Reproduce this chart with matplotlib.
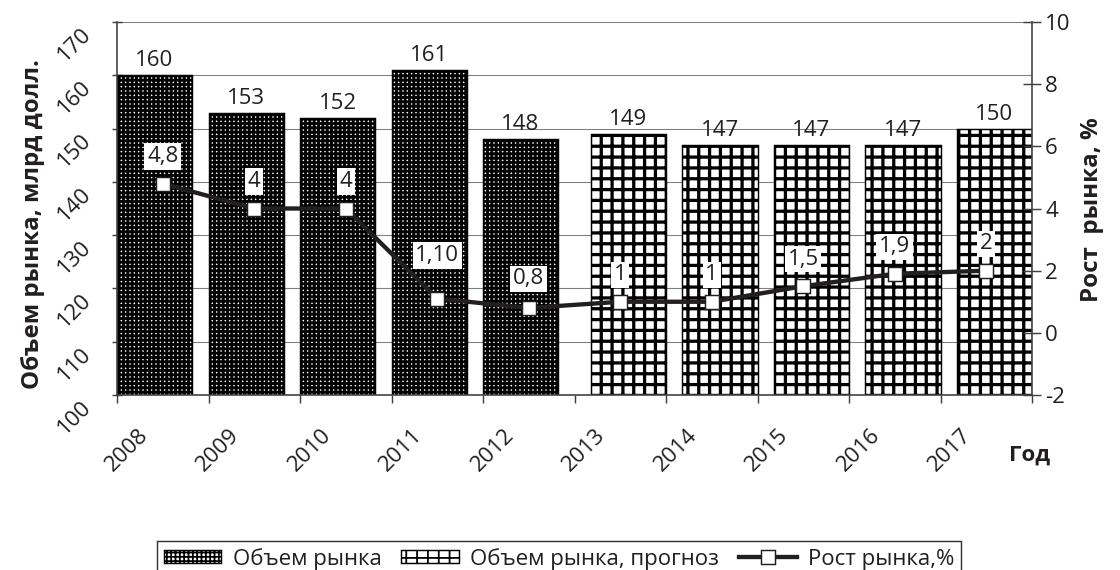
import matplotlib
matplotlib.use("Agg")
import matplotlib.pyplot as plt
from matplotlib.transforms import offset_copy
import numpy as np

# ---- data ----
years = ["2008", "2009", "2010", "2011", "2012", "2013", "2014", "2015", "2016", "2017"]
market = [160, 153, 152, 161, 148]            # 2008-2012
forecast = [149, 147, 147, 147, 150]          # 2013-2017
growth = [4.8, 4, 4, 1.1, 0.8, 1, 1, 1.5, 1.9, 2]
growth_labels = ["4,8", "4", "4", "1,10", "0,8", "1", "1", "1,5", "1,9", "2"]
left_ticks = [100, 110, 120, 130, 140, 150, 160, 170]
right_ticks = [-2, 0, 2, 4, 6, 8, 10]

legend_labels = ["Объем рынка", "Объем рынка, прогноз", "Рост рынка,%"]
ylabel_left = "Объем рынка, млрд долл."
ylabel_right = "Рост  рынка, %"
xlabel = "Год"

# ---- style ----
DPI = 130
plt.rcParams['font.family'] = ['Open Sans', 'DejaVu Sans']
TXT = '#231f20'
FS = 12.3

fig = plt.figure(figsize=(1120 / DPI, 570 / DPI), dpi=DPI)
ax = fig.add_axes([117 / 1120, 1 - 395 / 570, (1032 - 117) / 1120, (395 - 22) / 570])
ax2 = ax.twinx()

n = len(years)
x = np.arange(n)
n1 = len(market)
bw = 0.82
off = 0.09

def make_bars(xs, vals, hatch, hlw, label):
    with plt.rc_context({'hatch.linewidth': hlw}):
        bars = ax.bar(xs, vals, width=bw, color='white', edgecolor='black',
                      hatch=hatch, linewidth=0.8, label=label, zorder=2)
    for b in bars:
        try:
            b.set_hatch_linewidth(hlw)
        except Exception:
            pass
    return bars

b1 = make_bars(x[:n1] - off, market, '+++++', 1.55, legend_labels[0])
b2 = make_bars(x[n1:] + off, forecast, '++', 1.8, legend_labels[1])

for xs, vals in ((x[:n1] - off, market), (x[n1:] + off, forecast)):
    for xi, v in zip(xs, vals):
        ax.annotate(str(v), (xi, v), xytext=(0, 4), textcoords='offset pixels',
                    ha='center', va='bottom', fontsize=FS, color=TXT, zorder=6)

ax.set_xlim(-0.5, n - 0.5)
ax.set_ylim(100, 170)
ax.set_yticks(left_ticks)
ax.set_yticklabels([])
ax.set_xticks(np.arange(-0.5, n, 1.0))
ax.set_xticklabels([])
ax.tick_params(axis='x', direction='out', length=4.4, width=0.8, color='#404040')
ax.tick_params(axis='y', direction='inout', length=5, width=0.8, color='#404040')
ax.yaxis.grid(True, color='#7f7f7f', linewidth=0.6, zorder=0)
ax.set_axisbelow(True)
ax.spines['top'].set_visible(False)
ax.spines['right'].set_visible(False)
ax.spines['left'].set_color('#404040')
ax.spines['bottom'].set_color('#404040')
ax.spines['left'].set_linewidth(0.9)
ax.spines['bottom'].set_linewidth(0.9)

# left tick labels rotated
ytr = offset_copy(ax.get_yaxis_transform(), fig=fig, x=-29, y=-9, units='dots')
for v in left_ticks:
    ax.text(0, v, str(v), transform=ytr, rotation=45, rotation_mode='anchor',
            ha='right', va='center', fontsize=FS, color=TXT, clip_on=False)

# x tick labels rotated
xtr = offset_copy(ax.get_xaxis_transform(), fig=fig, x=-18, y=-37, units='dots')
for xi, yl in zip(x, years):
    ax.text(xi, 0, yl, transform=xtr, rotation=45, rotation_mode='anchor',
            ha='right', va='center', fontsize=FS, color=TXT, clip_on=False)

# growth line
line, = ax2.plot(x, growth, color='#231f20', linewidth=2.4, marker='s',
                 markersize=8, markerfacecolor='white', markeredgecolor='#231f20',
                 markeredgewidth=0.8, label=legend_labels[2], zorder=4)
label_dy = [27, 27, 27, 43, 29, 27, 27, 27, 27, 27]
for xi, v, t, dy in zip(x, growth, growth_labels, label_dy):
    ax2.annotate(t, (xi, v), xytext=(0, dy), textcoords='offset pixels',
                 ha='center', va='center', fontsize=FS, color=TXT, zorder=6,
                 bbox=dict(boxstyle='square,pad=0.12', fc='white', ec='none'))
ax2.set_ylim(-2, 10)
ax2.set_yticks(right_ticks)
ax2.set_yticklabels([str(t) for t in right_ticks], fontsize=FS, color=TXT)
ax2.tick_params(axis='y', direction='inout', length=10.5, width=0.8, color='#404040', pad=2)
for s in ['top', 'left', 'bottom']:
    ax2.spines[s].set_visible(False)
ax2.spines['right'].set_color('#404040')
ax2.spines['right'].set_linewidth(0.9)
ax.set_zorder(1)
ax2.set_zorder(2)
ax2.patch.set_visible(False)

# axis titles
fig.text(33 / 1120, 1 - 224 / 570, ylabel_left, rotation=90, ha='center', va='center',
         fontsize=13.4, fontweight='bold', color=TXT)
fig.text(1092 / 1120, 1 - 210 / 570, ylabel_right, rotation=90, ha='center', va='center',
         fontsize=13.4, fontweight='bold', color=TXT)
fig.text(1030 / 1120, 1 - 455 / 570, xlabel, ha='center', va='center',
         fontsize=FS, fontweight='bold', color=TXT)

# legend
leg = fig.legend(handles=[b1, b2, line], labels=legend_labels, loc='upper center',
                 bbox_to_anchor=(559 / 1120, 1 - 541 / 570), borderaxespad=0,
                 ncol=3, frameon=True, fancybox=False, edgecolor='black',
                 fontsize=12.3, handlelength=2.6, handleheight=0.5,
                 handletextpad=0.5, columnspacing=0.9, borderpad=0.3,
                 labelcolor=TXT)
leg.get_frame().set_linewidth(0.8)

fig.savefig('out.png', dpi=DPI)
